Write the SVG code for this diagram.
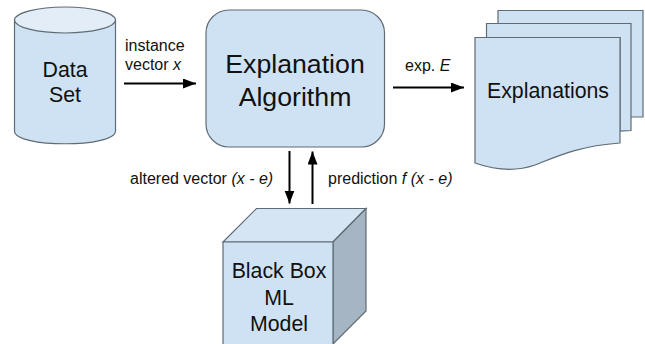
<svg xmlns="http://www.w3.org/2000/svg" width="645" height="344" viewBox="0 0 645 344">
<defs>
<marker id="ah" markerUnits="userSpaceOnUse" markerWidth="14" markerHeight="11" refX="13" refY="5" orient="auto"><path d="M0 0L13 5L0 10Z" fill="#000"/></marker>
</defs>
<style>
text{font-family:"Liberation Sans",Arial,sans-serif;fill:#111}
.s{fill:#cfe2f3;stroke:#5f6b75;stroke-width:1.2}
.c{stroke:#000;stroke-width:2;fill:none;marker-end:url(#ah)}
.m{font-size:16px}
.l{font-size:21.3px;text-anchor:middle}
.x{font-size:26.700px;text-anchor:middle}
.i{font-style:italic}
</style>
<rect width="645" height="344" fill="#fff"/>
<g id="data-set">
<path class="s" d="M14.500 20V131C14.500 148 115.500 148 115.500 131V20Z"/>
<ellipse cx="65" cy="20" rx="50.500" ry="13" fill="#e2edf7" stroke="#5f6b75" stroke-width="1.200"/>
<text class="l" x="65" y="77">Data</text>
<text class="l" x="65" y="102">Set</text>
</g>
<g id="explanation-algorithm">
<rect class="s" x="206" y="10" width="178.500" height="137" rx="23"/>
<text class="x" x="295" y="73">Explanation</text>
<text class="x" x="295" y="106">Algorithm</text>
</g>
<g id="explanations">
<path class="s" d="M498 10.500H643V117H620V37H498Z"/>
<path class="s" d="M486.500 23.500H631V130.500L620 131V37.500H486.500Z"/>
<path class="s" d="M475 37.500H620V143C580 146 560 155 535 165C515 172 495 170 475 163Z"/>
<text class="l" x="548" y="98">Explanations</text>
</g>
<g id="black-box">
<path class="s" d="M223 242L256.500 208.500H366L333 242Z" style="fill:#d6e5f4"/>
<path class="s" d="M333 242L366 208.500V311L333 344Z" style="fill:#a5b5c3"/>
<path class="s" d="M223 242H333V345H223Z"/>
<text class="l" x="279" y="278">Black Box</text>
<text class="l" x="279" y="305">ML</text>
<text class="l" x="279" y="331">Model</text>
</g>
<g id="connectors">
<path class="c" d="M124 83.500H196"/>
<path class="c" d="M393 87.500H464"/>
<path class="c" d="M289.500 151V203.500"/>
<path class="c" d="M312.500 204V151.500"/>
</g>
<g id="labels">
<text class="m" x="125" y="51">instance</text>
<text class="m" x="125" y="70">vector <tspan class="i">x</tspan></text>
<text class="m" x="405" y="71">exp. <tspan class="i">E</tspan></text>
<text class="m" x="130" y="184">altered vector <tspan class="i">(x - e)</tspan></text>
<text class="m" x="328" y="184">prediction <tspan class="i">f (x - e)</tspan></text>
</g>
</svg>
